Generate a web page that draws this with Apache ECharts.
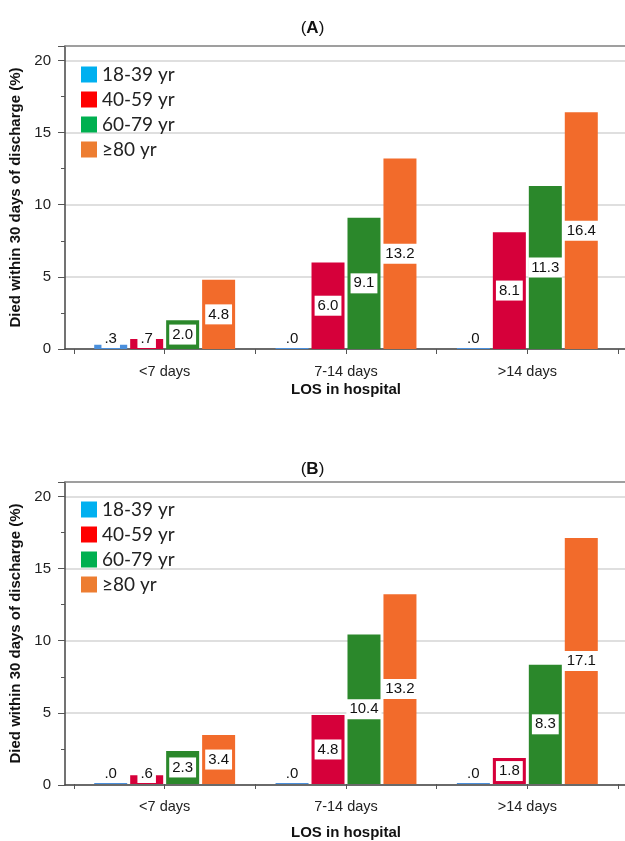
<!DOCTYPE html>
<html>
<head>
<meta charset="utf-8">
<script src="https://cdn.jsdelivr.net/npm/echarts@6/dist/echarts.min.js"></script>
<style>
html,body{margin:0;padding:0;background:#fff;}
#c{width:625px;height:841px;}
</style>
</head>
<body>
<div id="c"></div>
<script>
// ---- data ----
const categories = ['<7 days', '7-14 days', '>14 days'];
const ageGroups = ['18-39 yr', '40-59 yr', '60-79 yr', '\u226580 yr'];
// Panel A
const panelA_18_39 = [0.3, 0.0, 0.0];
const panelA_40_59 = [0.7, 6.0, 8.1];
const panelA_60_79 = [2.0, 9.1, 11.3];
const panelA_80plus = [4.8, 13.2, 16.4];
// Panel B
const panelB_18_39 = [0.0, 0.0, 0.0];
const panelB_40_59 = [0.6, 4.8, 1.8];
const panelB_60_79 = [2.3, 10.4, 8.3];
const panelB_80plus = [3.4, 13.2, 17.1];
const yTicks = [0, 5, 10, 15, 20];
const panelTitles = ['A', 'B'];
const xAxisTitle = 'LOS in hospital';
const yAxisTitle = 'Died within 30 days of discharge (%)';

// ---- style ----
const barColors = ['#4a8fdc', '#d6003a', '#2b882b', '#f26b2b'];
const legendColors = ['#00b0f0', '#ff0000', '#00b050', '#ed7d31'];
const FONT = '"Liberation Sans", Arial, sans-serif';

function fmt(v) {
  let s = v.toFixed(1);
  if (s.charAt(0) === '0') s = s.slice(1);
  return s;
}
function toData(arr) {
  return arr.map(v => ({
    value: v,
    label: v < 1.5 ? { position: 'insideBottom', distance: 1 } : { position: 'inside' }
  }));
}

const chart = echarts.init(document.getElementById('c'), null, { renderer: 'canvas' });

const panels = [
  { series: [panelA_18_39, panelA_40_59, panelA_60_79, panelA_80plus], top: 46, bottom: 492, nameGap: 33, legendTop: 60, titleTop: 15 },
  { series: [panelB_18_39, panelB_40_59, panelB_60_79, panelB_80plus], top: 482, bottom: 56, nameGap: 41, legendTop: 495, titleTop: 456 }
];

const grid = [], xAxis = [], yAxis = [], series = [], legend = [], title = [];

panels.forEach((p, pi) => {
  const gFrame = grid.length;
  grid.push({ left: 65, right: 0, top: p.top, bottom: p.bottom, containLabel: false });
  const gData = grid.length;
  grid.push({ left: 74, right: 7, top: p.top, bottom: p.bottom, containLabel: false });

  // frame bottom line
  xAxis.push({ gridIndex: gFrame, type: 'value', min: 0, max: 1, position: 'bottom',
    axisLine: { show: true, onZero: false, lineStyle: { color: '#444', width: 1.5 } },
    axisTick: { show: false }, axisLabel: { show: false }, splitLine: { show: false } });
  // frame top line
  xAxis.push({ gridIndex: gFrame, type: 'value', min: 0, max: 1, position: 'top',
    axisLine: { show: true, onZero: false, lineStyle: { color: '#8a8a8a', width: 1.5 } },
    axisTick: { show: false }, axisLabel: { show: false }, splitLine: { show: false } });
  // data category axis (boundary ticks + labels + name)
  const xData = xAxis.length;
  xAxis.push({ gridIndex: gData, type: 'category', data: categories, position: 'bottom',
    axisLine: { show: false },
    axisTick: { show: true, alignWithLabel: false, length: 5, lineStyle: { color: '#555' } },
    axisLabel: { show: true, margin: 15, fontFamily: FONT, fontSize: 14.5, color: '#222' },
    name: xAxisTitle, nameLocation: 'middle', nameGap: p.nameGap,
    nameTextStyle: { fontFamily: FONT, fontSize: 15, fontWeight: 'bold', color: '#111' } });
  // center ticks
  xAxis.push({ gridIndex: gData, type: 'category', data: categories, position: 'bottom',
    axisLine: { show: false },
    axisTick: { show: true, alignWithLabel: true, length: 5, lineStyle: { color: '#555' } },
    axisLabel: { show: false } });

  // frame y axis with labels, ticks, grid lines
  yAxis.push({ gridIndex: gFrame, type: 'value', min: 0, max: 21, interval: 5,
    axisLine: { show: true, lineStyle: { color: '#444', width: 1.5 } },
    axisTick: { show: true, length: 7, lineStyle: { color: '#555' } },
    minorTick: { show: true, splitNumber: 2, length: 4, lineStyle: { color: '#555' } },
    axisLabel: { show: true, margin: 14, fontFamily: FONT, fontSize: 15, color: '#222', showMaxLabel: false,
      formatter: v => (yTicks.indexOf(v) >= 0 ? String(v) : '') },
    splitLine: { show: true, lineStyle: { color: '#d4d4d4', width: 1.5 } },
    name: yAxisTitle, nameLocation: 'middle', nameGap: 42,
    nameTextStyle: { fontFamily: FONT, fontSize: 15, fontWeight: 'bold', color: '#111' } });
  const yData = yAxis.length;
  yAxis.push({ gridIndex: gData, type: 'value', min: 0, max: 21, interval: 5, show: false });

  p.series.forEach((arr, si) => {
    series.push({
      name: ageGroups[si], type: 'bar', xAxisIndex: xData, yAxisIndex: yData,
      data: toData(arr), barWidth: 33, barGap: '9%',
      barMinHeight: si === 0 ? 1 : 0,
      itemStyle: { color: barColors[si] },
      label: { show: true, formatter: q => fmt(q.value), backgroundColor: '#fff',
        padding: [3, 3, 2, 3], color: '#111', fontFamily: FONT, fontSize: 15 },
      emphasis: { disabled: true },
      z: 3
    });
  });

  legend.push({ orient: 'vertical', left: 76, top: p.legendTop, itemWidth: 16, itemHeight: 16, itemGap: 6,
    icon: 'rect', selectedMode: false,
    textStyle: { fontFamily: 'Lato, "Open Sans", sans-serif', fontSize: 19, color: '#222' },
    data: ageGroups.map((n, i) => ({ name: n, icon: 'rect', itemStyle: { color: legendColors[i] } })) });

  title.push({ text: '{n|(}{b|' + panelTitles[pi] + '}{n|)}', left: 'center', top: p.titleTop,
    textStyle: { rich: { n: { fontFamily: FONT, fontSize: 17, fontWeight: 'normal', color: '#111' },
                         b: { fontFamily: FONT, fontSize: 17, fontWeight: 'bold', color: '#111' } } } });
});

chart.setOption({ animation: false, backgroundColor: '#fff', title, legend, grid, xAxis, yAxis, series });
</script>
</body>
</html>
